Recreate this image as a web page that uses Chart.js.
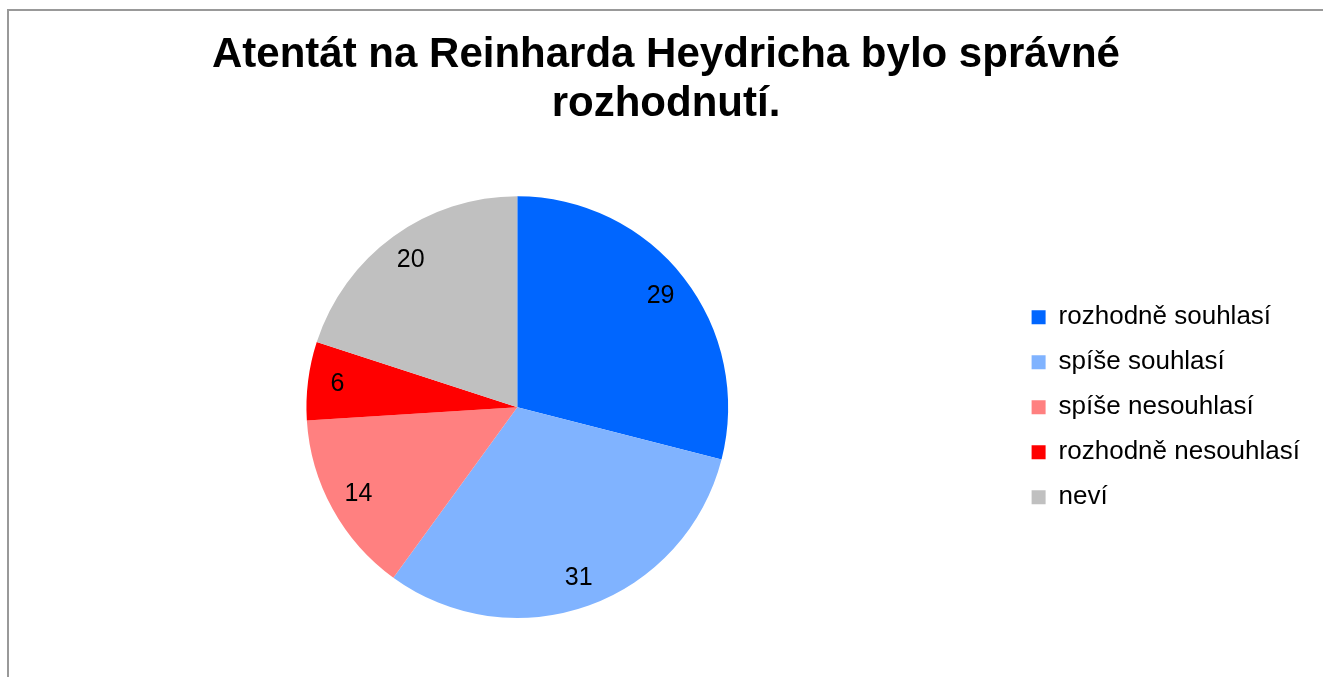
<!DOCTYPE html>
<html>
<head>
<meta charset="utf-8">
<script src="https://cdn.jsdelivr.net/npm/chart.js@4"></script>
<style>
    html, body { margin: 0; padding: 0; background: #fff; overflow: hidden; }
    #wrap { position: relative; width: 1323px; height: 677px; }
    #frame {
        position: absolute; left: 7px; top: 9px; width: 1400px; height: 800px;
        border: 2px solid #999; box-sizing: border-box;
    }
    #chartBox { position: absolute; left: 0; top: 0; width: 1323px; height: 677px; }
</style>
</head>
<body>
<div id="wrap">
    <div id="frame"></div>
    <div id="chartBox"><canvas id="pieChart"></canvas></div>
</div>
<script>
const titleLines = ['Atentát na Reinharda Heydricha bylo správné', 'rozhodnutí.'];
const categories = ['rozhodně souhlasí', 'spíše souhlasí', 'spíše nesouhlasí', 'rozhodně nesouhlasí', 'neví'];
const values = [29, 31, 14, 6, 20];
const sliceColors = ['#0066FF', '#80B3FF', '#FF8080', '#FF0000', '#C0C0C0'];

Chart.defaults.font.family = "'Liberation Sans', Arial, Helvetica, sans-serif";
Chart.defaults.color = '#000';

// value labels inside the slices
const sliceLabels = {
    id: 'sliceLabels',
    afterDatasetsDraw(chart) {
        const ctx = chart.ctx;
        const meta = chart.getDatasetMeta(0);
        ctx.save();
        ctx.font = "25px 'Liberation Sans', Arial, sans-serif";
        ctx.fillStyle = '#000';
        ctx.textAlign = 'center';
        ctx.textBaseline = 'middle';
        meta.data.forEach(function(arc, i) {
            const p = arc.getProps(['x', 'y', 'startAngle', 'endAngle', 'outerRadius'], true);
            const mid = (p.startAngle + p.endAngle) / 2;
            const r = p.outerRadius * 0.86;
            ctx.fillText(String(values[i]), p.x + Math.cos(mid) * r, p.y + Math.sin(mid) * r);
        });
        ctx.restore();
    }
};

const ctx = document.getElementById('pieChart').getContext('2d');
const pieChart = new Chart(ctx, {
    type: 'pie',
    data: {
        labels: categories,
        datasets: [{
            data: values,
            backgroundColor: sliceColors,
            borderWidth: 0
        }]
    },
    options: {
        responsive: true,
        maintainAspectRatio: false,
        animation: false,
        layout: {
            padding: { left: 22, right: 13, top: 0, bottom: 59 }
        },
        plugins: {
            title: {
                display: true,
                text: titleLines,
                color: '#000',
                font: { size: 42, weight: 'bold', lineHeight: 1.17 },
                padding: { top: 31, bottom: 67 }
            },
            legend: {
                position: 'right',
                align: 'center',
                fullSize: false,
                labels: {
                    boxWidth: 14,
                    boxHeight: 14,
                    padding: 19,
                    color: '#000',
                    font: { size: 26 }
                }
            },
            tooltip: { enabled: false }
        }
    },
    plugins: [sliceLabels]
});
</script>
</body>
</html>
